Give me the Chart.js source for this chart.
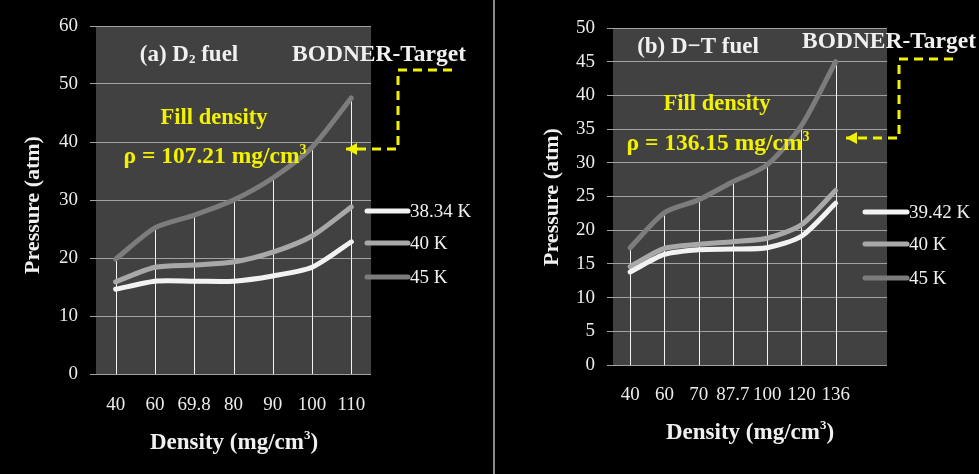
<!DOCTYPE html>
<html>
<head>
<meta charset="utf-8">
<script src="https://cdn.jsdelivr.net/npm/chart.js@4/dist/chart.umd.min.js"></script>
<style>
  html, body { margin: 0; padding: 0; background: #000; }
  #wrap { position: relative; width: 979px; height: 474px; background: #000; overflow: hidden; }
  #left { position: absolute; left: 0; top: 0; }
  #right { position: absolute; left: 495px; top: 0; }
  #sep { position: absolute; left: 493px; top: 0; width: 2px; height: 474px; background: #8a8a8a; }
</style>
</head>
<body>
<div id="wrap">
  <canvas id="left" width="493" height="474"></canvas>
  <div id="sep"></div>
  <canvas id="right" width="484" height="474"></canvas>
</div>
<script>
// (a) D2 fuel
const d2Density = ['40', '60', '69.8', '80', '90', '100', '110'];
const d2P3834 = [14.6, 16.0, 16.0, 16.0, 16.9, 18.4, 22.8];
const d2P40   = [15.9, 18.4, 18.8, 19.3, 21.0, 23.8, 28.8];
const d2P45   = [19.8, 25.2, 27.4, 30.0, 33.8, 39.1, 47.6];
const d2Max = 60, d2Step = 10;

// (b) D-T fuel (last category left empty, as in the original plot area)
const dtDensity = ['40', '60', '70', '87.7', '100', '120', '136', ''];
const dtP3942 = [13.8, 16.4, 17.1, 17.2, 17.4, 19.1, 24.0];
const dtP40   = [14.6, 17.3, 17.9, 18.3, 18.8, 20.8, 25.9];
const dtP45   = [17.4, 22.6, 24.5, 27.2, 29.7, 35.5, 45.0];
const dtMax = 50, dtStep = 5;

const SERIF = '"Liberation Serif", "Times New Roman", serif';
const WHITE = '#f0f0f0';
const YELLOW = '#f2f200';
const lineColors = ['#f2f2f2', '#a8a8a8', '#7c7c7c'];

// draw text made of pieces (normal / sub / sup), centred on x
function drawRich(ctx, parts, cx, cy, size, color) {
    const pieces = parts.map(p => {
        const s = p.sub || p.sup ? Math.round(size * 0.58) : size;
        ctx.font = `bold ${s}px ${SERIF}`;
        return { t: p.t, s, w: ctx.measureText(p.t).width, dy: p.sub ? size * 0.22 : p.sup ? -size * 0.3 : 0 };
    });
    const total = pieces.reduce((a, p) => a + p.w, 0);
    let x = cx - total / 2;
    ctx.fillStyle = color;
    ctx.textAlign = 'left';
    ctx.textBaseline = 'middle';
    pieces.forEach(p => {
        ctx.font = `bold ${p.s}px ${SERIF}`;
        ctx.fillText(p.t, x, cy + p.dy);
        x += p.w;
    });
}

function drawArrowPath(ctx, pts, tip) {
    ctx.save();
    ctx.strokeStyle = YELLOW;
    ctx.fillStyle = YELLOW;
    ctx.lineWidth = 3;
    ctx.setLineDash([9, 6]);
    ctx.beginPath();
    ctx.moveTo(pts[0][0], pts[0][1]);
    for (let i = 1; i < pts.length; i++) ctx.lineTo(pts[i][0], pts[i][1]);
    ctx.stroke();
    ctx.setLineDash([]);
    ctx.beginPath();
    ctx.moveTo(tip[0], tip[1]);
    ctx.lineTo(tip[0] + 11, tip[1] - 6);
    ctx.lineTo(tip[0] + 11, tip[1] + 6);
    ctx.closePath();
    ctx.fill();
    ctx.restore();
}

const decor = {
    id: 'decor',
    beforeDraw(chart) {
        const { ctx, chartArea: a } = chart;
        ctx.save();
        ctx.fillStyle = '#000';
        ctx.fillRect(0, 0, chart.width, chart.height);
        ctx.fillStyle = '#414141';
        ctx.fillRect(a.left, a.top, a.right - a.left, a.bottom - a.top);
        ctx.restore();
    },
    beforeDatasetsDraw(chart) {
        // drop lines from the highest series down to the axis
        const { ctx, chartArea: a, scales } = chart;
        const n = chart.data.datasets[0].data.length;
        ctx.save();
        ctx.strokeStyle = '#f4f4f4';
        ctx.lineWidth = 1;
        for (let i = 0; i < n; i++) {
            const top = Math.max(...chart.data.datasets.map(d => d.data[i]));
            const x = Math.round(scales.x.getPixelForValue(i)) + 0.5;
            ctx.beginPath();
            ctx.moveTo(x, scales.y.getPixelForValue(top));
            ctx.lineTo(x, a.bottom);
            ctx.stroke();
        }
        ctx.restore();
    },
    afterDraw(chart, args, o) {
        const ctx = chart.ctx;
        ctx.save();
        // titles and notes
        drawRich(ctx, o.title, o.titleXY[0], o.titleXY[1], 23, WHITE);
        drawRich(ctx, [{ t: 'BODNER-Target' }], o.targetXY[0], o.targetXY[1], 23.5, WHITE);
        drawRich(ctx, [{ t: 'Fill density' }], o.fillXY[0], o.fillXY[1], 22.5, YELLOW);
        drawRich(ctx, [{ t: 'ρ = ' + o.rho + ' mg/cm' }, { t: '3', sup: true }], o.rhoXY[0], o.rhoXY[1], 23.5, YELLOW);
        drawArrowPath(ctx, o.arrow, o.arrow[o.arrow.length - 1]);

        // axis titles
        drawRich(ctx, [{ t: 'Density (mg/cm' }, { t: '3', sup: true }, { t: ')' }], o.xTitleXY[0], o.xTitleXY[1], 23, WHITE);
        ctx.save();
        ctx.translate(o.yTitleXY[0], o.yTitleXY[1]);
        ctx.rotate(-Math.PI / 2);
        drawRich(ctx, [{ t: 'Pressure (atm)' }], 0, 0, 22, WHITE);
        ctx.restore();

        // legend
        chart.data.datasets.forEach((d, i) => {
            const y = o.legendY[i];
            ctx.strokeStyle = d.borderColor;
            ctx.lineWidth = 5;
            ctx.lineCap = 'round';
            ctx.beginPath();
            ctx.moveTo(o.legendX[0], y);
            ctx.lineTo(o.legendX[1], y);
            ctx.stroke();
            ctx.fillStyle = WHITE;
            ctx.font = `19px ${SERIF}`;
            ctx.textAlign = 'left';
            ctx.textBaseline = 'middle';
            ctx.fillText(d.label, o.legendX[1] + 2, y + 1);
        });
        ctx.restore();
    }
};

function makeChart(id, labels, series, names, max, step, box, notes) {
    return new Chart(document.getElementById(id), {
        type: 'line',
        data: {
            labels: labels,
            datasets: series.map((s, i) => ({
                label: names[i],
                data: s,
                borderColor: lineColors[i],
                borderWidth: 5,
                borderCapStyle: 'round',
                borderJoinStyle: 'round',
                pointRadius: 0,
                tension: 0.25,
                fill: false
            }))
        },
        options: {
            responsive: false,
            animation: false,
            layout: { padding: { left: 0, top: box.top, right: box.right, bottom: box.bottom } },
            plugins: { legend: { display: false }, tooltip: { enabled: false }, decor: notes },
            scales: {
                x: {
                    offset: true,
                    grid: { display: false, drawTicks: false },
                    border: { display: false },
                    ticks: { color: '#ececec', font: { family: SERIF, size: 19 }, padding: box.xPad, maxRotation: 0, autoSkip: false },
                    afterFit(s) { s.height = 60; }
                },
                y: {
                    min: 0, max: max,
                    grid: { color: '#a2a2a2', lineWidth: 1, drawTicks: true, tickLength: 6 },
                    border: { display: false },
                    ticks: { stepSize: step, color: '#ececec', font: { family: SERIF, size: 19 }, padding: 12 },
                    afterFit(s) { s.width = box.yWidth; }
                }
            }
        },
        plugins: [decor]
    });
}

makeChart('left', d2Density, [d2P3834, d2P40, d2P45], ['38.34 K', '40 K', '45 K'], d2Max, d2Step,
    { top: 26, right: 122, bottom: 40, yWidth: 96, xPad: 20 },
    {
        title: [{ t: '(a) D' }, { t: '2', sub: true }, { t: ' fuel' }], titleXY: [189, 55],
        targetXY: [379, 55], fillXY: [214, 118], rho: '107.21', rhoXY: [215, 157],
        arrow: [[452, 70], [398, 70], [398, 149], [346, 149]],
        xTitleXY: [234, 443], yTitleXY: [33, 205],
        legendX: [367, 408], legendY: [211, 243, 277]
    });

makeChart('right', dtDensity, [dtP3942, dtP40, dtP45], ['39.42 K', '40 K', '45 K'], dtMax, dtStep,
    { top: 28, right: 92, bottom: 49, yWidth: 118, xPad: 19 },
    {
        title: [{ t: '(b) D−T fuel' }], titleXY: [203, 47],
        targetXY: [394, 42], fillXY: [222, 104], rho: '136.15', rhoXY: [223, 144],
        arrow: [[458, 59], [404, 59], [404, 138], [351, 138]],
        xTitleXY: [255, 433], yTitleXY: [57, 197],
        legendX: [370, 412], legendY: [212, 244, 278]
    });
</script>
</body>
</html>
